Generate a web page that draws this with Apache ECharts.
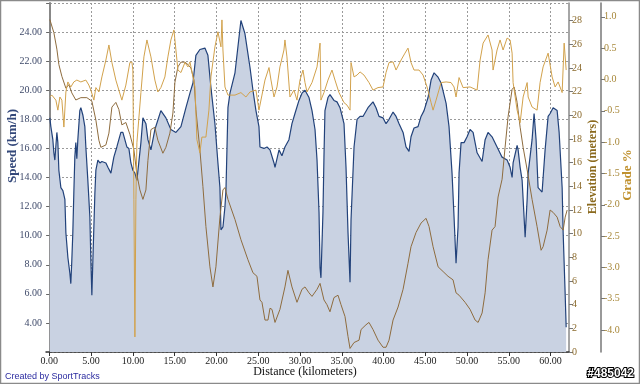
<!DOCTYPE html>
<html><head><meta charset="utf-8">
<script src="https://cdn.jsdelivr.net/npm/echarts@6/dist/echarts.min.js"></script>
<style>html,body{margin:0;padding:0;background:#fff}#c{width:640px;height:384px}</style>
</head><body><div id="c"></div>
<script>
// distance (km), speed (km/h)
const speedData = [[0.06,18.1],[0.18,17.5],[0.42,16.6],[0.54,15.7],[0.66,15.2],[0.90,17.1],[1.02,16.4],[1.14,14.5],[1.38,13.3],[1.62,13.1],[1.86,12.5],[1.98,10.2],[2.22,8.5],[2.46,7.4],[2.57,6.7],[2.69,8.3],[2.81,10.2],[2.93,12.9],[3.05,15.4],[3.17,16.4],[3.29,15.3],[3.41,16.6],[3.65,18.6],[3.77,18.8],[4.01,18.3],[4.25,17.5],[4.37,16.1],[4.61,13.8],[4.85,11.3],[4.97,8.3],[5.09,5.9],[5.21,8.3],[5.45,12.9],[5.57,14.5],[5.81,15.2],[6.05,15.0],[6.29,15.1],[6.77,15.0],[7.01,14.7],[7.37,14.3],[7.72,15.4],[8.08,16.1],[8.56,17.1],[8.80,17.1],[9.28,16.1],[9.52,16.0],[9.76,15.0],[10.0,14.5],[10.24,14.3],[10.48,13.8],[10.96,16.4],[11.20,18.1],[11.56,17.7],[11.80,16.6],[12.16,15.9],[12.63,17.3],[13.35,18.6],[13.95,18.1],[14.55,17.3],[15.15,17.1],[15.75,17.5],[16.35,18.8],[16.83,19.8],[17.19,20.5],[17.54,22.4],[18.02,22.8],[18.62,22.9],[18.98,22.4],[19.34,20.2],[19.82,17.7],[20.18,15.0],[20.42,13.3],[20.54,10.4],[20.78,10.6],[21.02,12.0],[21.14,13.1],[21.38,18.8],[21.62,19.8],[22.22,21.2],[22.93,24.8],[23.41,23.9],[24.01,21.6],[24.37,20.0],[24.73,18.6],[25.09,17.5],[25.21,16.1],[25.69,16.0],[26.05,16.1],[26.41,15.9],[26.89,15.0],[27.01,14.7],[27.49,15.9],[27.84,15.5],[28.20,16.1],[28.68,16.6],[29.04,17.7],[29.40,18.4],[29.88,19.3],[30.24,19.8],[30.60,20.0],[31.08,19.5],[31.44,18.6],[31.80,17.3],[32.04,15.2],[32.28,11.6],[32.40,7.8],[32.51,7.1],[32.75,11.6],[32.87,15.4],[32.99,18.6],[33.35,19.5],[33.59,19.7],[34.07,19.3],[34.43,19.2],[34.79,18.8],[35.27,17.7],[35.51,14.7],[35.75,10.2],[35.99,6.8],[36.11,11.1],[36.47,16.1],[36.83,18.0],[37.19,18.2],[37.54,18.2],[38.14,18.8],[38.74,19.2],[39.10,18.8],[39.46,18.2],[39.94,18.1],[40.30,17.7],[40.66,18.0],[41.14,18.5],[41.50,18.2],[41.86,17.7],[42.34,17.1],[42.69,16.1],[43.05,15.8],[43.29,16.8],[43.65,17.4],[44.13,17.5],[44.49,18.2],[44.85,18.6],[45.33,19.5],[45.69,20.7],[46.05,21.2],[46.53,20.9],[46.89,20.5],[47.49,19.1],[47.84,17.5],[48.20,14.3],[48.44,11.3],[48.68,8.1],[48.92,10.6],[49.04,14.3],[49.28,16.4],[49.64,16.4],[50.0,16.8],[50.36,17.3],[50.72,17.1],[51.20,15.7],[51.80,15.1],[52.16,16.6],[52.51,17.1],[52.99,16.8],[53.59,16.1],[54.19,15.4],[54.79,15.2],[55.15,14.7],[55.39,14.0],[55.51,15.0],[55.99,16.2],[56.11,15.9],[56.35,14.7],[56.59,13.8],[56.71,12.5],[56.95,9.9],[57.19,12.5],[57.31,14.3],[57.78,16.6],[58.02,18.4],[58.26,16.6],[58.50,13.3],[58.98,13.0],[59.34,15.9],[59.70,18.2],[59.94,18.4],[60.30,18.8],[60.78,18.6],[61.02,17.1],[61.38,13.3],[61.50,10.2],[61.74,6.0],[61.86,3.7]];
// distance (km), elevation (m)
const elevationData = [[0.06,28.1],[0.54,27.0],[0.90,25.6],[1.14,24.3],[1.50,23.3],[1.98,22.3],[2.34,22.6],[2.69,21.9],[3.17,21.3],[3.77,21.5],[4.49,21.5],[5.09,21.2],[5.57,19.6],[5.93,17.9],[6.17,17.3],[6.77,17.5],[7.13,18.5],[7.49,20.7],[7.96,21.1],[8.32,20.5],[8.68,19.2],[9.16,19.4],[9.64,18.4],[10.12,17.1],[10.48,15.0],[10.84,13.7],[11.20,12.9],[11.56,13.7],[11.80,16.2],[12.16,18.8],[12.63,19.0],[12.99,17.9],[13.59,16.8],[13.95,17.3],[14.43,18.5],[14.79,20.2],[15.03,22.8],[15.39,24.1],[15.75,24.5],[16.23,24.5],[16.59,24.3],[16.95,24.0],[17.31,23.0],[17.54,20.5],[18.02,17.1],[18.38,14.0],[18.74,10.6],[19.22,7.2],[19.58,5.5],[19.94,7.2],[20.42,11.4],[20.78,13.7],[21.02,13.9],[21.38,12.9],[22.22,11.2],[22.93,9.5],[23.77,7.8],[24.37,6.7],[24.85,6.4],[25.21,4.4],[25.45,4.2],[25.81,2.7],[26.17,2.7],[26.41,3.7],[26.65,3.6],[27.01,2.5],[27.60,3.6],[28.20,5.5],[28.56,6.9],[29.04,5.5],[29.64,4.2],[30.24,5.3],[30.60,5.5],[31.08,5.0],[31.44,4.7],[32.04,5.3],[32.40,5.8],[32.87,4.4],[33.23,4.0],[33.59,3.4],[34.07,4.6],[34.55,4.8],[34.91,4.0],[35.39,3.0],[35.75,1.3],[35.99,0.3],[36.47,0.8],[37.07,1.0],[37.31,1.9],[37.90,2.3],[38.26,2.5],[38.74,1.9],[39.34,1.0],[39.94,0.4],[40.30,0.4],[40.66,1.0],[41.14,2.7],[41.74,3.8],[42.34,5.3],[42.93,7.5],[43.29,8.9],[43.89,10.1],[44.49,10.9],[45.09,11.3],[45.45,10.6],[45.93,8.9],[46.53,7.2],[47.13,6.8],[47.72,6.4],[48.32,6.1],[48.68,5.0],[49.04,4.8],[49.76,4.2],[50.36,3.6],[50.96,2.7],[51.32,2.5],[51.80,3.3],[52.16,5.0],[52.51,7.8],[52.99,10.3],[53.35,10.6],[53.71,13.1],[54.19,14.6],[54.55,17.3],[54.91,19.9],[55.39,22.2],[55.63,22.4],[55.99,21.1],[56.35,19.0],[56.71,17.3],[57.19,15.4],[57.78,12.9],[58.38,10.6],[58.86,8.6],[59.10,8.9],[59.58,10.3],[59.94,12.0],[60.30,11.8],[60.78,11.4],[61.14,10.6],[61.50,10.3],[61.74,11.4],[61.98,12.0]];
// distance (km), grade (%)
const gradeData = [[0.06,-0.28],[0.30,-0.25],[0.78,-0.33],[1.02,-0.49],[1.26,-0.28],[1.50,-0.33],[1.74,-0.76],[1.98,-0.20],[2.22,-0.04],[2.57,-0.12],[2.93,-0.04],[3.29,-0.01],[3.77,-0.04],[4.37,-0.01],[4.73,-0.09],[4.97,-0.17],[5.33,-0.33],[5.57,-0.13],[5.93,-0.20],[6.29,0.04],[6.77,0.31],[7.13,0.55],[7.49,0.27],[7.96,-0.01],[8.32,-0.17],[8.68,-0.33],[9.16,-0.09],[9.64,0.27],[9.88,0.28],[10.0,0.15],[10.12,-1.92],[10.24,-4.11],[10.36,-1.92],[10.48,-1.01],[10.96,-0.21],[11.32,0.36],[11.68,0.63],[12.16,0.36],[12.63,-0.01],[12.99,-0.20],[13.35,-0.13],[13.83,0.04],[14.19,0.36],[14.55,0.63],[14.91,0.79],[15.15,0.47],[15.39,0.15],[15.75,0.11],[16.23,0.27],[16.59,0.20],[16.83,0.28],[17.07,0.12],[17.43,-0.12],[17.66,-0.96],[18.02,-1.17],[18.26,-0.92],[18.74,-0.92],[19.10,-0.49],[19.34,0.04],[19.82,0.52],[20.18,0.76],[20.54,0.52],[20.66,0.95],[20.78,0.47],[21.02,-0.12],[21.38,-0.25],[22.22,-0.25],[22.93,-0.21],[23.53,-0.28],[24.01,-0.20],[24.73,-0.17],[25.09,-0.49],[25.45,-0.25],[25.81,-0.01],[26.29,0.19],[26.53,-0.01],[26.89,-0.28],[27.25,-0.12],[27.60,0.20],[28.08,0.47],[28.20,0.63],[28.44,0.36],[28.80,-0.28],[29.28,-0.17],[29.64,-0.33],[30.00,-0.01],[30.36,0.15],[30.60,-0.05],[30.84,-0.20],[31.44,-0.05],[32.04,0.20],[32.40,0.58],[32.51,-0.33],[32.87,-0.21],[33.35,-0.01],[33.83,0.15],[34.19,-0.01],[34.67,-0.21],[35.27,-0.37],[35.63,-0.41],[35.99,-0.49],[36.11,0.27],[36.47,0.04],[36.83,0.07],[37.19,0.12],[37.66,0.07],[38.26,-0.05],[38.74,-0.17],[39.34,-0.13],[39.94,-0.12],[40.30,0.11],[40.66,0.27],[41.14,0.28],[41.50,0.15],[42.10,0.31],[42.57,0.42],[42.93,0.50],[43.29,0.27],[43.65,0.15],[44.25,0.15],[44.73,0.07],[45.21,-0.12],[45.69,-0.37],[45.93,-0.49],[46.29,-0.33],[46.89,-0.05],[47.49,-0.04],[48.08,-0.05],[48.44,-0.12],[48.68,-0.28],[49.04,0.03],[49.52,-0.13],[50.36,-0.12],[51.20,-0.17],[51.56,0.31],[51.92,0.58],[52.51,0.71],[52.99,0.47],[53.11,0.15],[53.59,0.47],[53.95,0.63],[54.31,0.47],[54.79,0.66],[55.15,0.63],[55.39,0.42],[55.51,-0.05],[55.99,-0.49],[56.35,-0.69],[56.71,-0.28],[57.19,-0.05],[57.31,-0.28],[57.78,-0.44],[58.38,-0.49],[58.74,-0.05],[59.10,0.20],[59.70,0.42],[60.18,0.04],[60.54,-0.12],[60.90,-0.04],[61.38,-0.21],[61.62,0.58],[61.86,0.15]];
const distanceTicks = [0,5,10,15,20,25,30,35,40,45,50,55,60];
const elevationTicks = [0,2,4,6,8,10,12,14,16,18,20,22,24,26,28];
const gradeTicks = [-4,-3.5,-3,-2.5,-2,-1.5,-1,-0.5,0,0.5,1];

const SERIF = '"Liberation Serif", "Times New Roman", serif';
const grid = '#9a9a9a';
const chart = echarts.init(document.getElementById('c'), null, {renderer:'canvas'});
chart.setOption({
  animation:false,
  backgroundColor:'#ffffff',
  grid:{left:46, right:71, top:3, bottom:32},
  xAxis:{type:'value', min:-0.4, max:62.2,
    axisLine:{show:true, lineStyle:{color:'#333', width:1.5}},
    axisTick:{show:true, customValues:distanceTicks, length:4, lineStyle:{color:'#333'}},
    axisLabel:{customValues:distanceTicks, formatter:v=>v.toFixed(2), fontFamily:SERIF, fontSize:10, color:'#222', margin:4},
    splitLine:{show:true, lineStyle:{color:grid, type:[2,2], width:1}}},
  yAxis:[
    {type:'value', min:2, max:26, interval:2, position:'left',
      axisLine:{show:true, lineStyle:{color:'#888', width:2}},
      axisTick:{show:true, length:3, lineStyle:{color:'#666'}},
      axisLabel:{formatter:v=>(v<=2||v>=26)?'':v.toFixed(2), fontFamily:SERIF, fontSize:10, color:'#3f4a6a', margin:4},
      splitLine:{show:true, lineStyle:{color:grid, type:[2,2], width:1}}},
    {type:'value', min:0, max:29.5, position:'right',
      axisLine:{show:true, lineStyle:{color:'#888', width:1.5}},
      axisTick:{show:true, customValues:elevationTicks, length:4, lineStyle:{color:'#777'}},
      axisLabel:{customValues:elevationTicks, fontFamily:SERIF, fontSize:10, color:'#8b6a2c', margin:3},
      splitLine:{show:false}},
    {type:'value', min:-4.35, max:1.22, position:'right', offset:32,
      axisLine:{show:true, lineStyle:{color:'#777', width:1.5}},
      axisTick:{show:true, customValues:gradeTicks, length:4, lineStyle:{color:'#777'}},
      axisLabel:{customValues:gradeTicks, formatter:v=>v.toFixed(1), fontFamily:SERIF, fontSize:10, color:'#a8883a', margin:3},
      splitLine:{show:false}}
  ],
  series:[
    {name:'Speed', type:'line', yAxisIndex:0, data:speedData, showSymbol:false, z:2,
      lineStyle:{color:'#22427a', width:1.2}, areaStyle:{color:'#c9d2e2', opacity:1, origin:'start'}},
    {name:'Elevation', type:'line', yAxisIndex:1, data:elevationData, showSymbol:false, z:3,
      lineStyle:{color:'#8e6c3e', width:1}},
    {name:'Grade', type:'line', yAxisIndex:2, data:gradeData, showSymbol:false, z:4,
      lineStyle:{color:'#d2a24c', width:1}}
  ],
  graphic:[
    {type:'rect', shape:{x:0.5, y:0.5, width:639, height:383}, style:{fill:null, stroke:'#8a8a8a', lineWidth:1.5}, z:100},
    {type:'text', x:13, y:146, rotation:Math.PI/2, style:{text:'Speed (km/h)', align:'center', verticalAlign:'middle', font:'bold 13px '+SERIF, fill:'#34487a'}},
    {type:'text', x:593, y:167, rotation:Math.PI/2, style:{text:'Elevation (meters)', align:'center', verticalAlign:'middle', font:'bold 12px '+SERIF, fill:'#8b6a1e'}},
    {type:'text', x:628, y:175, rotation:Math.PI/2, style:{text:'Grade %', align:'center', verticalAlign:'middle', font:'bold 13px '+SERIF, fill:'#c0912e'}},
    {type:'text', x:305, y:372, style:{text:'Distance (kilometers)', align:'center', verticalAlign:'middle', font:'12px '+SERIF, fill:'#111'}},
    {type:'text', x:5, y:377, style:{text:'Created by SportTracks', align:'left', verticalAlign:'middle', font:'9px "Liberation Sans", Arial, sans-serif', fill:'#2b2ba0'}},
    {type:'text', x:634, y:374, style:{text:'#485042', align:'right', verticalAlign:'middle', font:'bold 12px "Liberation Sans", Arial, sans-serif', fill:'#ffffff', stroke:'#000000', lineWidth:2}}
  ]
});
</script></body></html>
